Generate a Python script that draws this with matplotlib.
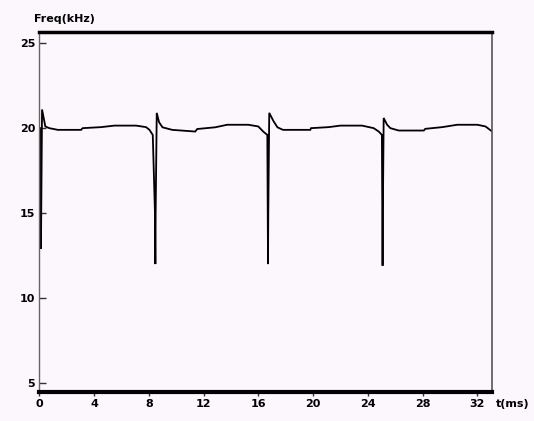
import matplotlib
matplotlib.use("Agg")
import matplotlib.pyplot as plt

# Instantaneous frequency trace (time in ms, frequency in kHz)
t_ms = [
    0.08, 0.12, 0.20, 0.44, 0.73, 1.35, 3.05, 3.17, 4.51, 5.49, 7.07, 7.80, 8.05, 8.29,
    8.45, 8.48, 8.50, 8.58, 8.75, 9.00, 9.71, 11.39, 11.54, 12.85, 13.73, 15.27, 16.00,
    16.36, 16.66,
    16.69, 16.71, 16.73, 16.80, 17.12, 17.40, 17.80, 19.80, 19.85, 21.14, 22.00, 23.58,
    24.43, 24.80, 25.03,
    25.06, 25.08, 25.10, 25.16, 25.41, 25.65, 26.26, 28.09, 28.20, 29.44, 30.53, 32.00,
    32.60, 33.17,
]
freq_khz = [
    20.0, 12.9, 21.1, 20.1, 20.0, 19.9, 19.9, 20.0, 20.06, 20.15, 20.15, 20.06, 19.9, 19.6,
    15.0, 12.0, 15.0, 20.9, 20.35, 20.05, 19.9, 19.8, 19.95, 20.05, 20.2, 20.2, 20.1,
    19.8, 19.6,
    15.0, 12.0, 15.0, 20.9, 20.4, 20.05, 19.9, 19.9, 20.0, 20.06, 20.15, 20.15,
    20.0, 19.8, 19.6,
    15.0, 11.9, 15.0, 20.6, 20.2, 20.0, 19.86, 19.86, 19.96, 20.06, 20.2, 20.2,
    20.1, 19.75,
]

x_ticks = [0, 4, 8, 12, 16, 20, 24, 28, 32]
y_ticks = [5, 10, 15, 20, 25]

bg = "#fcf7fc"
fig = plt.figure(figsize=(5.34, 4.21), dpi=100, facecolor=bg)
ax = fig.add_axes([0.0736, 0.0689, 0.8484, 0.8551], facecolor=bg)

ax.plot(t_ms, freq_khz, color="black", lw=1.3, solid_joinstyle="miter")

ax.set_xlim(0, 33.1)
ax.set_ylim(4.47, 25.66)
ax.set_xticks(x_ticks)
ax.set_yticks(y_ticks)

font = dict(family="DejaVu Sans", size=8, weight="bold")
ax.set_xticklabels([str(v) for v in x_ticks], **font)
ax.set_yticklabels([str(v) for v in y_ticks], **font)
ax.tick_params(axis="x", direction="out", length=3, width=1, pad=2, color="#333333")
ax.tick_params(axis="y", direction="in", length=5, width=1, pad=3, color="#333333")

for side, lw, col in (("top", 2.5, "black"), ("bottom", 3.0, "black"),
                      ("left", 1.0, "#666666"), ("right", 1.2, "#555555")):
    ax.spines[side].set_linewidth(lw)
    ax.spines[side].set_color(col)

fig.text(34 / 534, 1 - 19 / 421, "Freq(kHz)", ha="left", va="center", **font)
fig.text(496 / 534, 1 - 404 / 421, "t(ms)", ha="left", va="center", **font)

fig.savefig("out.png", dpi=100, facecolor=bg)
